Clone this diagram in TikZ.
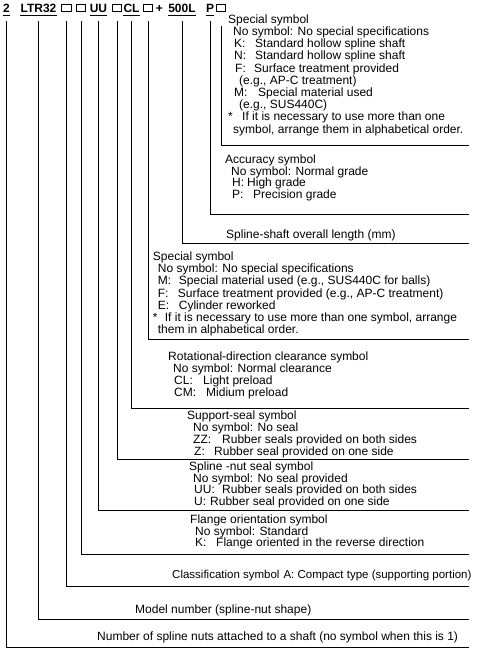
\documentclass[tikz,border=0pt]{standalone}
\usepackage{fontspec}
\setmainfont{Liberation Sans}
\begin{document}
\begin{tikzpicture}[x=1pt,y=-1pt,
  hdr/.style={font=\fontsize{12}{12}\selectfont\bfseries, inner sep=0pt, anchor=base},
  blank/.style={draw, line width=1.3pt, minimum width=9.6pt, minimum height=7.3pt, inner sep=0pt},
  uline/.style={line width=0.9pt},
  lead/.style={line width=0.9pt},
  desc/.style={inner sep=0pt, anchor=base west, align=left, font=\fontsize{12}{#1}\selectfont},
  desc/.default=12,
]
\useasboundingbox (0,0) rectangle (485,650);

% header
\node[hdr] (n2) at (6.5,12.5) {2};
\node[hdr] (nmodel) at (38.5,12.5) {LTR32};
\node[blank] (b1) at (66.5,8.2) {};
\node[blank] (b2) at (81,8.2) {};
\node[hdr] (nuu) at (98.5,12.5) {UU};
\node[blank] (b3) at (117,8.2) {};
\node[hdr] (ncl) at (131.5,12.5) {CL};
\node[blank] (b4) at (148,8.2) {};
\node[hdr] (nplus) at (159.5,12.5) {+};
\node[hdr] (nlen) at (182,12.5) {500L};
\node[hdr] (np) at (210,12.5) {P};
\node[blank] (b5) at (221,8.2) {};

\foreach \n in {n2,nmodel,nuu,ncl,nlen,np}
  \draw[uline] ([yshift=-3.2pt]\n.base west) -- ([yshift=-3.2pt]\n.base east);

% line ends
\coordinate (e5) at (469,145);
\coordinate (ep) at (469,214);
\coordinate (elen) at (469,243);
\coordinate (e4) at (469,339);
\coordinate (ecl) at (469,408);
\coordinate (e3) at (469,459);
\coordinate (euu) at (469,510);
\coordinate (e2b) at (469,554);
\coordinate (e1) at (469,586);
\coordinate (emodel) at (469,619);
\coordinate (e2) at (469,647);

% leads
\draw[lead] ([yshift=-13.5pt]b5.south) |- (e5);
\draw[lead] ([yshift=-9pt]np.base) |- (ep);
\draw[lead] ([yshift=-9pt]nlen.base) |- (elen);
\draw[lead] ([yshift=-9pt]b4.south) |- (e4);
\draw[lead] ([yshift=-9pt]ncl.base) |- (ecl);
\draw[lead] ([yshift=-9pt]b3.south) |- (e3);
\draw[lead] ([yshift=-9pt]nuu.base) |- (euu);
\draw[lead] ([yshift=-9pt]b2.south) |- (e2b);
\draw[lead] ([yshift=-9pt]b1.south) |- (e1);
\draw[lead] ([yshift=-9pt]nmodel.base) |- (emodel);
\draw[lead] ([yshift=-9pt]n2.base) |- (e2);

% descriptions (anchored at the baseline of their last line)
\node[desc=10.9] (tspec) at (228,133.1) {Special symbol\\
\hspace*{5pt}No symbol: No special specifications\\
\hspace*{6pt}\makebox[21pt][l]{K:}Standard hollow spline shaft\\
\hspace*{6pt}\makebox[21pt][l]{N:}Standard hollow spline shaft\\
\hspace*{7pt}\makebox[19pt][l]{F:}Surface treatment provided\\
\hspace*{11pt}(e.g., AP-C treatment)\\
\hspace*{6pt}\makebox[24pt][l]{M:}Special material used\\
\hspace*{11pt}(e.g., SUS440C)\\
\makebox[14pt][l]{*}If it is necessary to use more than one\\
\hspace*{5pt}symbol, arrange them in alphabetical order.};

\node[desc=11.7] (tacc) at (225,198.6) {Accuracy symbol\\
\hspace*{6pt}No symbol: Normal grade\\
\hspace*{7pt}\makebox[15pt][l]{H:}High grade\\
\hspace*{7pt}\makebox[21pt][l]{P:}Precision grade};

\node[desc] (tlen) at (226,238.5) {Spline-shaft overall length (mm)};

\node[desc=12.2] (tspec2) at (152.7,333.7) {Special symbol\\
\hspace*{5pt}No symbol: No special specifications\\
\hspace*{5pt}\makebox[21pt][l]{M:}Special material used (e.g., SUS440C for balls)\\
\hspace*{5pt}\makebox[20pt][l]{F:}Surface treatment provided (e.g., AP-C treatment)\\
\hspace*{5pt}\makebox[21pt][l]{E:}Cylinder reworked\\
\makebox[12pt][l]{*}If it is necessary to use more than one symbol, arrange\\
\hspace*{5pt}them in alphabetical order.};

\node[desc=12] (trot) at (168,396.5) {Rotational-direction clearance symbol\\
\hspace*{5pt}No symbol: Normal clearance\\
\hspace*{6pt}\makebox[29pt][l]{CL:}Light preload\\
\hspace*{6pt}\makebox[32pt][l]{CM:}Midium preload};

\node[desc=12] (tsup) at (187,455.5) {Support-seal symbol\\
\hspace*{6pt}No symbol: No seal\\
\hspace*{6pt}\makebox[29pt][l]{ZZ:}Rubber seals provided on both sides\\
\hspace*{7pt}\makebox[20pt][l]{Z:}Rubber seal provided on one side};

\node[desc=11.7] (tnut) at (189,505.6) {Spline -nut seal symbol\\
\hspace*{4pt}No symbol: No seal provided\\
\hspace*{5pt}\makebox[28pt][l]{UU:}Rubber seals provided on both sides\\
\hspace*{5pt}\makebox[16pt][l]{U:}Rubber seal provided on one side};

\node[desc=11.5] (tfl) at (190,546.5) {Flange orientation symbol\\
\hspace*{5pt}No symbol: Standard\\
\hspace*{5pt}\makebox[21pt][l]{K:}Flange oriented in the reverse direction};

\node[desc, font=\fontsize{11.5}{12}\selectfont] (tcls) at (172,578.5) {Classification symbol\hspace{4pt}A: Compact type (supporting portion)};
\node[desc] (tmdl) at (135,613.5) {Model number (spline-nut shape)};
\node[desc] (tnum) at (97,640.5) {Number of spline nuts attached to a shaft (no symbol when this is 1)};
\end{tikzpicture}
\end{document}
